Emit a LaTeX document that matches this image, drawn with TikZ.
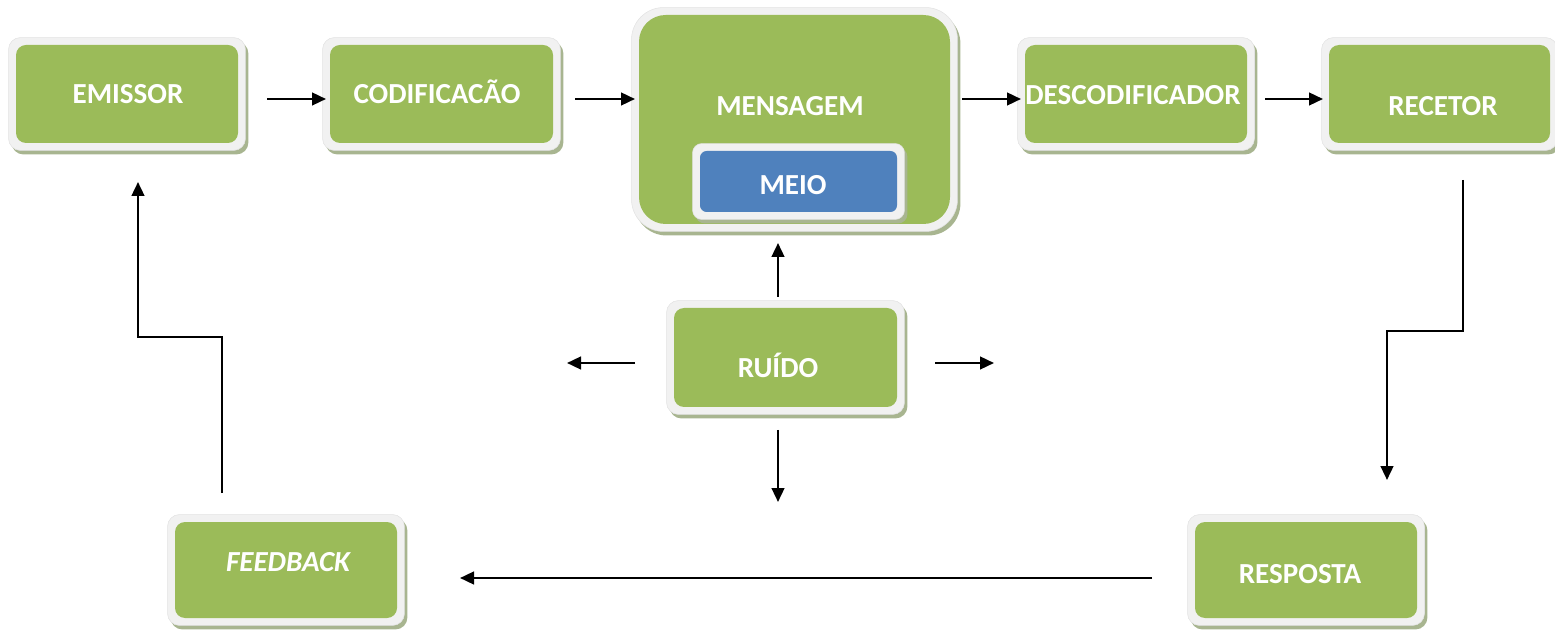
\documentclass[tikz,border=0pt]{standalone}
\usepackage{fontspec}
\setmainfont{Carlito}
\usetikzlibrary{arrows.meta,fit}
\definecolor{boxgreen}{HTML}{9BBB59}
\definecolor{boxblue}{HTML}{4F81BD}
\definecolor{rimgray}{HTML}{F1F1F1}
\definecolor{rimedge}{HTML}{E2E2E2}
\definecolor{shadowgreen}{HTML}{A8B590}
\tikzset{
  rim/.style={fill=rimgray, draw=rimedge, line width=0.4pt, inner sep=5.6pt,
    rounded corners=#1,
    preaction={fill=shadowgreen, draw=none, transform canvas={shift={(2.2pt,-3pt)}}}},
  rim/.default=9pt,
  core/.style={fill=boxgreen, draw=none, inner sep=0pt, rounded corners=#1},
  core/.default=7.5pt,
  label/.style={text=white, font=\fontsize{21.8}{26}\selectfont\bfseries, anchor=base, inner sep=0pt},
  link/.style={line width=1.8pt, -{Triangle[length=10.5pt,width=9.5pt]}}
}
\begin{document}
\begin{tikzpicture}[x=0.75pt,y=-0.75pt]
\useasboundingbox (0,0) rectangle (1555,630);

% corner points of the coloured areas
\coordinate (e1) at (16,45);    \coordinate (e2) at (238,143);
\coordinate (c1) at (330,45);   \coordinate (c2) at (553,143);
\coordinate (m1) at (639,15);   \coordinate (m2) at (950,224);
\coordinate (i1) at (700,151);  \coordinate (i2) at (897,212);
\coordinate (d1) at (1025,45);  \coordinate (d2) at (1247,143);
\coordinate (r1) at (1329,45);  \coordinate (r2) at (1550,143);
\coordinate (n1) at (674,308);  \coordinate (n2) at (897,407);
\coordinate (f1) at (175,522);  \coordinate (f2) at (397,618);
\coordinate (p1) at (1195,522); \coordinate (p2) at (1417,618);

% boxes: shadow + light rim, then the coloured core
\node[rim, fit=(e1)(e2)] (emissorRim) {};
\node[core, fit=(e1)(e2)] (emissor) {};
\node[rim, fit=(c1)(c2)] (codifRim) {};
\node[core, fit=(c1)(c2)] (codif) {};
\node[rim=24pt, fit=(m1)(m2)] (mensRim) {};
\node[core=20pt, fit=(m1)(m2)] (mens) {};
\node[rim=7pt, fit=(i1)(i2)] (meioRim) {};
\node[core=5pt, fill=boxblue, fit=(i1)(i2)] (meio) {};
\node[rim, fit=(d1)(d2)] (descRim) {};
\node[core, fit=(d1)(d2)] (desc) {};
\node[rim, fit=(r1)(r2)] (recRim) {};
\node[core, fit=(r1)(r2)] (rec) {};
\node[rim, fit=(n1)(n2)] (ruidoRim) {};
\node[core, fit=(n1)(n2)] (ruido) {};
\node[rim, fit=(f1)(f2)] (feedRim) {};
\node[core, fit=(f1)(f2)] (feed) {};
\node[rim, fit=(p1)(p2)] (respRim) {};
\node[core, fit=(p1)(p2)] (resp) {};

% texts
\node[label] (tEmissor) at (128,104) {EMISSOR};
\node[label] (tCodif) at (437,104) {CODIFICACÃO};
\node[label] (tMens) at (790,116) {MENSAGEM};
\node[label] (tMeio) at (793,195) {MEIO};
\node[label] (tDesc) at (1133,105) {DESCODIFICADOR};
\node[label] (tRec) at (1443,116) {RECETOR};
\node[label] (tRuido) at (778,378) {RUÍDO};
\node[label, font=\fontsize{21.8}{26}\selectfont\bfseries\itshape] (tFeed) at (288,571) {FEEDBACK};
\node[label] (tResp) at (1300,583) {RESPOSTA};

% connector end points
\coordinate (a1s) at (267,99);  \coordinate (a1e) at (326,99);
\coordinate (a2s) at (575,99);  \coordinate (a2e) at (635,99);
\coordinate (a3s) at (962,99);  \coordinate (a3e) at (1021,99);
\coordinate (a4s) at (1265,99); \coordinate (a4e) at (1323,99);
\coordinate (upS) at (778,297); \coordinate (upE) at (778,243);
\coordinate (lfS) at (635,363); \coordinate (lfE) at (567,363);
\coordinate (rtS) at (935,363); \coordinate (rtE) at (994,363);
\coordinate (dnS) at (778,430); \coordinate (dnE) at (778,502);
\coordinate (rcS) at (1463,180); \coordinate (rcM) at (1387,331); \coordinate (rcE) at (1387,480);
\coordinate (btS) at (1152,578); \coordinate (btE) at (460,578);
\coordinate (fbS) at (222,493); \coordinate (fbM) at (138,337); \coordinate (fbE) at (138,182);

% connectors
\draw[link] (a1s) -- (a1e);
\draw[link] (a2s) -- (a2e);
\draw[link] (a3s) -- (a3e);
\draw[link] (a4s) -- (a4e);
\draw[link] (upS) -- (upE);
\draw[link] (lfS) -- (lfE);
\draw[link] (rtS) -- (rtE);
\draw[link] (dnS) -- (dnE);
\draw[link, line join=miter] (rcS) |- (rcM) -- (rcE);
\draw[link] (btS) -- (btE);
\draw[link, line join=miter] (fbS) |- (fbM) -- (fbE);
\end{tikzpicture}
\end{document}
